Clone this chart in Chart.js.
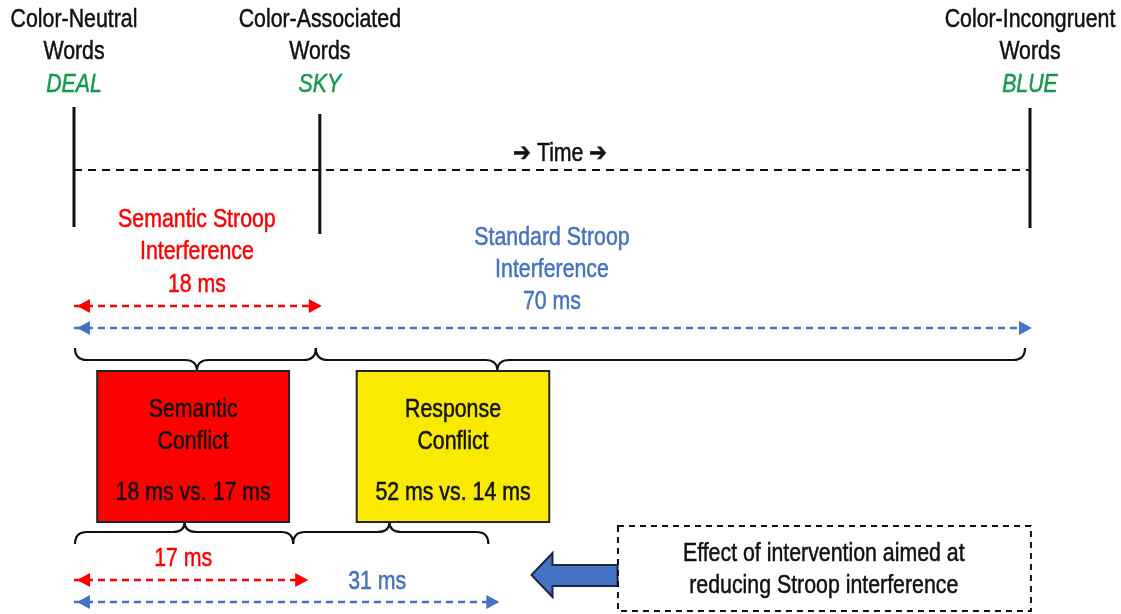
<!DOCTYPE html>
<html>
<head>
<meta charset="utf-8">
<script src="https://cdn.jsdelivr.net/npm/chart.js@4/dist/chart.umd.min.js"></script>
<style>
  html, body { margin: 0; padding: 0; background: #fff; }
  #wrap { width: 1121px; height: 614px; position: relative; }
</style>
</head>
<body>
<div id="wrap"><canvas id="chart"></canvas></div>
<script>
// Word conditions on the time line (ms after colour-neutral words)
const conditions = [['Color-Neutral', 'Words'], ['Color-Associated', 'Words'], ['Color-Incongruent', 'Words']];
const exampleWords = ['DEAL', 'SKY', 'BLUE'];
const conditionTimes = [0, 18, 70];

// Interference before the intervention
const interferenceLabels = [['Semantic Stroop', 'Interference'], ['Standard Stroop', 'Interference']];
const interferenceMs = [18, 70];

// Conflict boxes: before vs. after
const conflictLabels = [['Semantic', 'Conflict'], ['Response', 'Conflict']];
const semanticConflictMs = [18, 17];
const responseConflictMs = [52, 14];

// Interference after the intervention
const reducedMs = [17, 31];

const interventionText = ['Effect of intervention aimed at', 'reducing Stroop interference'];

const COLORS = {
    ink: '#111111',
    red: '#ff0000',
    blue: '#4472c4',
    green: '#139a4a',
    yellow: '#f9ea00'
};
// no narrow font installed, so Liberation Sans gets squeezed horizontally
const FONT = '"Liberation Sans", Arial, sans-serif';
const SQUEEZE = 0.82;

// layout: x in ms (chart scale), y in px rows
const LAYOUT = {
    headerY: [18, 50, 83],
    lineTop: [107, 114, 108],
    lineBottom: [227, 234, 228],
    timeY: 170,
    timeLabel: { x: 35.6, y: 152 },
    semanticLabelY: [218, 250, 283],
    standardLabelY: [236, 268, 300],
    arrowY: [306, 328, 580, 602],
    upperBrace: { end: 348, line: 360, tip: 371, tips: [9, 31], trim: [1, -4, -4, -5] },
    lowerBrace: { end: 544, line: 532, tip: 522, tips: [8.1, 23.1], trim: [1, -13, -13, -9] },
    boxes: [[1.7, 15.75], [20.7, 34.8]],
    boxY: [371, 522],
    boxTextY: [408, 440, 491],
    reducedLabel: [{ x: 8.0, y: 557 }, { x: 22.2, y: 580 }],
    bigArrow: { tip: 33.5, tail: 39.8, y: 575 },
    noteBox: { x: [39.83, 70.07], y: [526, 611], textX: 54.9, textY: [552, 584] }
};

function seg(x1, x2, y) {
    return [{ x: x1, y: y }, { x: x2, y: y }];
}

const datasets = [];

// vertical markers for each word condition
conditionTimes.forEach((t, i) => {
    datasets.push({
        data: [{ x: t, y: LAYOUT.lineTop[i] }, { x: t, y: LAYOUT.lineBottom[i] }],
        borderColor: COLORS.ink,
        borderWidth: 3
    });
});

// dashed time line
datasets.push({
    data: seg(conditionTimes[0], conditionTimes[2], LAYOUT.timeY),
    borderColor: COLORS.ink,
    borderWidth: 2,
    borderDash: [8, 6]
});

// dashed interval arrows
const arrows = [
    { to: interferenceMs[0], y: LAYOUT.arrowY[0], color: COLORS.red },
    { to: interferenceMs[1], y: LAYOUT.arrowY[1], color: COLORS.blue },
    { to: reducedMs[0], y: LAYOUT.arrowY[2], color: COLORS.red },
    { to: reducedMs[1], y: LAYOUT.arrowY[3], color: COLORS.blue }
];
arrows.forEach(a => {
    datasets.push({
        data: seg(0, a.to, a.y),
        borderColor: a.color,
        borderWidth: 2.5,
        borderDash: [7, 5]
    });
});

function text(ctx, str, x, y, color, style) {
    ctx.save();
    ctx.font = (style || '') + ' 26px ' + FONT;
    ctx.fillStyle = color;
    ctx.strokeStyle = color;
    ctx.lineWidth = 0.5;
    ctx.textAlign = 'center';
    ctx.textBaseline = 'middle';
    ctx.translate(x, y + 2);
    ctx.scale(SQUEEZE, 1);
    ctx.fillText(str, 0, 0);
    ctx.strokeText(str, 0, 0);
    ctx.restore();
}

function arrowHead(ctx, x, y, dir, color) {
    ctx.save();
    ctx.fillStyle = color;
    ctx.beginPath();
    ctx.moveTo(x, y);
    ctx.lineTo(x - dir * 13, y - 7);
    ctx.lineTo(x - dir * 13, y + 7);
    ctx.closePath();
    ctx.fill();
    ctx.restore();
}

function brace(ctx, x1, x2, xt, yEnd, yLine, yTip) {
    const r = 12;
    ctx.save();
    ctx.strokeStyle = COLORS.ink;
    ctx.lineWidth = 2.2;
    ctx.beginPath();
    ctx.moveTo(x1, yEnd);
    ctx.quadraticCurveTo(x1, yLine, x1 + r, yLine);
    ctx.lineTo(xt - r, yLine);
    ctx.quadraticCurveTo(xt, yLine, xt, yTip);
    ctx.quadraticCurveTo(xt, yLine, xt + r, yLine);
    ctx.lineTo(x2 - r, yLine);
    ctx.quadraticCurveTo(x2, yLine, x2, yEnd);
    ctx.stroke();
    ctx.restore();
}

function drawBraces(ctx, X, Y, spans, b) {
    spans.forEach((s, i) => {
        brace(ctx, X(s[0]) + b.trim[i * 2], X(s[1]) + b.trim[i * 2 + 1], X(b.tips[i]), Y(b.end), Y(b.line), Y(b.tip));
    });
}

const diagramPlugin = {
    id: 'diagram',
    afterDatasetsDraw(chart) {
        const ctx = chart.ctx;
        const X = v => chart.scales.x.getPixelForValue(v);
        const Y = v => chart.scales.y.getPixelForValue(v);

        // headers
        conditions.forEach((lines, i) => {
            lines.forEach((l, j) => text(ctx, l, X(conditionTimes[i]), Y(LAYOUT.headerY[j]), COLORS.ink));
            text(ctx, exampleWords[i], X(conditionTimes[i]), Y(LAYOUT.headerY[2]), COLORS.green, 'italic');
        });

        text(ctx, '\u2794 Time \u2794', X(LAYOUT.timeLabel.x), Y(LAYOUT.timeLabel.y), COLORS.ink);

        // interference labels
        const semLines = interferenceLabels[0].concat([interferenceMs[0] + ' ms']);
        semLines.forEach((l, j) => text(ctx, l, X(interferenceMs[0] / 2), Y(LAYOUT.semanticLabelY[j]), COLORS.red));
        const stdLines = interferenceLabels[1].concat([interferenceMs[1] + ' ms']);
        stdLines.forEach((l, j) => text(ctx, l, X(interferenceMs[1] / 2), Y(LAYOUT.standardLabelY[j]), COLORS.blue));

        // arrow heads at both ends
        arrows.forEach(a => {
            arrowHead(ctx, X(0) + 3, Y(a.y), -1, a.color);
            arrowHead(ctx, X(a.to) + 2, Y(a.y), 1, a.color);
        });

        // braces above boxes (before) and below boxes (after)
        drawBraces(ctx, X, Y, [[0, semanticConflictMs[0]], [semanticConflictMs[0], semanticConflictMs[0] + responseConflictMs[0]]], LAYOUT.upperBrace);
        drawBraces(ctx, X, Y, [[0, semanticConflictMs[1]], [semanticConflictMs[1], semanticConflictMs[1] + responseConflictMs[1]]], LAYOUT.lowerBrace);

        // conflict boxes
        const fills = [COLORS.red, COLORS.yellow];
        const values = [semanticConflictMs, responseConflictMs];
        LAYOUT.boxes.forEach((b, i) => {
            const x1 = X(b[0]), x2 = X(b[1]);
            const y1 = Y(LAYOUT.boxY[0]), y2 = Y(LAYOUT.boxY[1]);
            ctx.save();
            ctx.fillStyle = fills[i];
            ctx.fillRect(x1, y1, x2 - x1, y2 - y1);
            ctx.strokeStyle = '#222';
            ctx.lineWidth = 2;
            ctx.strokeRect(x1, y1, x2 - x1, y2 - y1);
            ctx.restore();
            const cx = (x1 + x2) / 2;
            const lines = conflictLabels[i].concat([values[i][0] + ' ms vs. ' + values[i][1] + ' ms']);
            lines.forEach((l, j) => text(ctx, l, cx, Y(LAYOUT.boxTextY[j]), COLORS.ink));
        });

        // reduced interference labels
        text(ctx, reducedMs[0] + ' ms', X(LAYOUT.reducedLabel[0].x), Y(LAYOUT.reducedLabel[0].y), COLORS.red);
        text(ctx, reducedMs[1] + ' ms', X(LAYOUT.reducedLabel[1].x), Y(LAYOUT.reducedLabel[1].y), COLORS.blue);

        // big block arrow
        const ba = LAYOUT.bigArrow;
        const tx = X(ba.tip), ex = X(ba.tail), cy = Y(ba.y);
        const hx = tx + 21;
        ctx.save();
        ctx.fillStyle = COLORS.blue;
        ctx.strokeStyle = '#1d2740';
        ctx.lineWidth = 2;
        ctx.beginPath();
        ctx.moveTo(tx, cy);
        ctx.lineTo(hx, cy - 22);
        ctx.lineTo(hx, cy - 10);
        ctx.lineTo(ex, cy - 10);
        ctx.lineTo(ex, cy + 11);
        ctx.lineTo(hx, cy + 11);
        ctx.lineTo(hx, cy + 22);
        ctx.closePath();
        ctx.fill();
        ctx.stroke();
        ctx.restore();

        // dashed note box
        const nb = LAYOUT.noteBox;
        ctx.save();
        ctx.strokeStyle = COLORS.ink;
        ctx.lineWidth = 2;
        ctx.setLineDash([6, 5]);
        ctx.strokeRect(X(nb.x[0]), Y(nb.y[0]), X(nb.x[1]) - X(nb.x[0]), Y(nb.y[1]) - Y(nb.y[0]));
        ctx.restore();
        interventionText.forEach((l, j) => text(ctx, l, X(nb.textX), Y(nb.textY[j]), COLORS.ink));
    }
};

// x: 0 ms at 74px, 13.657 px per ms
const PX_PER_MS = 13.657;
const chart = new Chart(document.getElementById('chart'), {
    type: 'scatter',
    data: { datasets: datasets },
    options: {
        responsive: true,
        maintainAspectRatio: false,
        animation: false,
        events: [],
        layout: { padding: 0 },
        datasets: {
            scatter: { showLine: true, pointRadius: 0, clip: false, fill: false }
        },
        scales: {
            x: { type: 'linear', display: false, min: -74 / PX_PER_MS, max: (1121 - 74) / PX_PER_MS },
            y: { type: 'linear', display: false, min: 0, max: 614, reverse: true }
        },
        plugins: {
            legend: { display: false },
            tooltip: { enabled: false }
        }
    },
    plugins: [diagramPlugin]
});
</script>
</body>
</html>
